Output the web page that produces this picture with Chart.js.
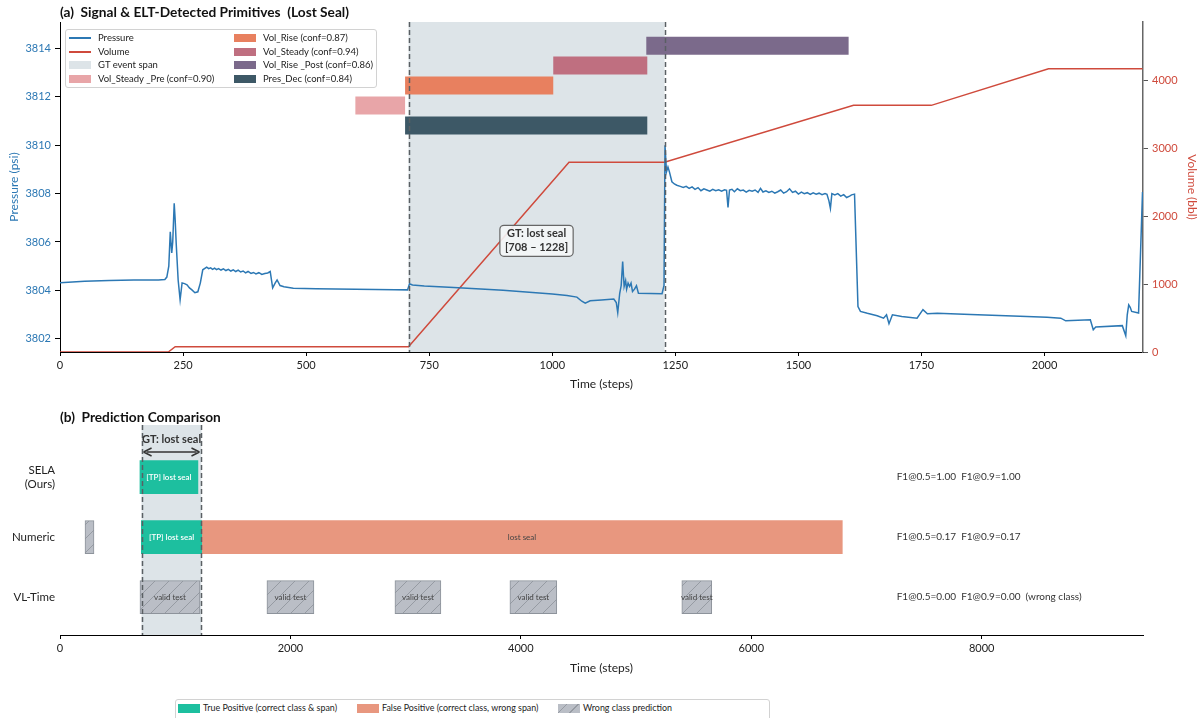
<!DOCTYPE html>
<html>
<head>
<meta charset="utf-8">
<script src="https://cdn.jsdelivr.net/npm/chart.js@4.4.1/dist/chart.umd.min.js"></script>
<style>
  body { margin: 0; background: #fff; font-family: Lato, sans-serif; }
  #wrap { position: relative; width: 1203px; height: 718px; overflow: hidden; }
  #c1 { position: absolute; left: 0; top: 0; }
  #c2 { position: absolute; left: 0; top: 400px; }
  .ttl { position: absolute; left: 60px; font-weight: bold; font-size: 13.7px; color: #111; white-space: pre; }
  .lg { position: absolute; border: 1px solid #d2d2d2; border-radius: 3px; background: rgba(255,255,255,0.85); font-size: 9.5px; color: #222; }
  .it { position: absolute; white-space: pre; line-height: 12px; }
  .ln { position: absolute; width: 22px; height: 2px; }
  .bx { position: absolute; width: 22px; height: 8px; }
  #lg2 { font-size: 8.9px; }
</style>
</head>
<body>
<div id="wrap">
  <canvas id="c1" width="1203" height="400"></canvas>
  <canvas id="c2" width="1203" height="290"></canvas>
  <div class="ttl" style="top:3px">(a)  Signal &amp; ELT-Detected Primitives  (Lost Seal)</div>
  <div class="ttl" style="top:408px">(b)  Prediction Comparison</div>
  <div class="lg" id="lg1" style="left:65px;top:29px;width:310px;height:57px"></div>
  <div class="lg" id="lg2" style="left:175px;top:699px;width:593px;height:26px"></div>
</div>
<script>
Chart.defaults.font.family = 'Lato';
Chart.defaults.color = '#222';

// ---- panel (a) data
const pressureSteps = [
  0, 50, 100, 150, 200, 213, 217, 221, 224, 227,
  229, 232, 234, 236, 240, 244, 248, 253, 258, 263,
  268, 274, 280, 285, 290, 298, 302, 306, 310, 314,
  318, 322, 327, 332, 337, 342, 347, 352, 357, 362,
  367, 372, 377, 382, 388, 393, 398, 404, 410, 416,
  422, 427, 432, 437, 441, 447, 455, 474, 520, 600,
  680, 706, 710, 716, 740, 800, 900, 1000, 1030, 1050,
  1060, 1067, 1077, 1100, 1125, 1130, 1133, 1137, 1140, 1143,
  1146, 1149, 1151, 1154, 1157, 1160, 1163, 1167, 1171, 1175,
  1200, 1223, 1227, 1229, 1232, 1235, 1238, 1243, 1248, 1253,
  1260, 1266, 1272, 1278, 1284, 1290, 1296, 1302, 1308, 1314,
  1320, 1326, 1332, 1338, 1344, 1350, 1354, 1357, 1360, 1365,
  1370, 1376, 1382, 1388, 1394, 1400, 1406, 1412, 1418, 1423,
  1428, 1434, 1440, 1446, 1452, 1458, 1464, 1470, 1476, 1482,
  1488, 1494, 1500, 1506, 1512, 1518, 1524, 1530, 1536, 1542,
  1548, 1554, 1558, 1562, 1565, 1568, 1574, 1580, 1586, 1592,
  1598, 1604, 1608, 1614, 1621, 1626, 1640, 1660, 1673, 1679,
  1684, 1691, 1710, 1741, 1753, 1762, 1782, 1850, 1950, 2005,
  2033, 2043, 2093, 2099, 2104, 2158, 2165, 2168, 2171, 2174,
  2177, 2191, 2199
];
const pressureVals = [
  3804.31, 3804.38, 3804.41, 3804.43, 3804.43, 3804.45, 3804.55, 3805.0, 3806.42, 3805.55,
  3806.0, 3807.6, 3806.9, 3805.96, 3804.43, 3803.61, 3804.31, 3804.28, 3804.23, 3804.1,
  3804.02, 3803.9, 3803.94, 3804.3, 3804.85, 3804.96, 3804.9, 3804.93, 3804.87, 3804.92,
  3804.86, 3804.9, 3804.84, 3804.89, 3804.82, 3804.87, 3804.8, 3804.85, 3804.78, 3804.84,
  3804.76, 3804.8, 3804.72, 3804.78, 3804.7, 3804.74, 3804.68, 3804.73, 3804.66, 3804.7,
  3804.72, 3804.78, 3804.1, 3804.3, 3804.43, 3804.2, 3804.15, 3804.09, 3804.07, 3804.05,
  3804.03, 3804.02, 3804.27, 3804.22, 3804.18, 3804.12, 3804.0, 3803.85, 3803.79, 3803.72,
  3803.55, 3803.47, 3803.57, 3803.6, 3803.64, 3803.5, 3803.08, 3803.88, 3804.2, 3805.19,
  3804.16, 3804.4, 3804.05, 3804.3, 3804.16, 3804.3, 3803.95, 3804.05, 3804.19, 3803.88,
  3803.87, 3803.86, 3804.2, 3810.0, 3808.9, 3809.1, 3808.9, 3808.49, 3808.4, 3808.35,
  3808.3, 3808.26, 3808.3, 3808.22, 3808.28, 3808.18, 3808.25, 3808.12, 3808.2, 3808.15,
  3808.1, 3808.18, 3808.12, 3808.16, 3808.1, 3808.16, 3808.14, 3807.43, 3808.15, 3808.18,
  3808.08, 3808.2, 3808.12, 3808.15, 3808.06, 3808.14, 3808.1, 3808.15, 3808.05, 3808.22,
  3808.07, 3808.12, 3808.05, 3808.1, 3808.02, 3808.08, 3808.15, 3808.02, 3808.08, 3808.2,
  3808.05, 3808.1, 3807.98, 3808.06, 3808.0, 3808.04, 3807.97, 3808.03, 3807.98, 3808.02,
  3807.96, 3808.0, 3807.97, 3807.7, 3807.39, 3808.0, 3807.95, 3808.0, 3807.9, 3807.96,
  3807.84, 3807.9, 3807.95, 3807.98, 3803.33, 3803.13, 3803.05, 3802.95, 3802.85, 3802.99,
  3802.62, 3802.99, 3802.92, 3802.85, 3803.2, 3803.03, 3803.05, 3803.0, 3802.93, 3802.89,
  3802.85, 3802.74, 3802.78, 3802.37, 3802.48, 3802.54, 3802.12, 3802.99, 3803.4, 3803.3,
  3803.13, 3803.06, 3808.07
];
const volumeSteps = [0, 220, 234, 708, 1034, 1228, 1612, 1770, 2008, 2199];
const volumeVals = [0, 0, 78, 78, 2800, 2800, 3640, 3640, 4180, 4180];

const primNames = ['Vol_Steady _Pre (conf=0.90)', 'Vol_Rise (conf=0.87)', 'Vol_Steady (conf=0.94)', 'Vol_Rise _Post (conf=0.86)', 'Pres_Dec (conf=0.84)'];
const primStart = [600, 701, 1002, 1191, 701];
const primEnd = [701, 1002, 1193, 1602, 1193];
const primLevel = [3811.65, 3812.47, 3813.30, 3814.12, 3810.82];
const primColors = ['#e8a5a8', '#e8805f', '#bf6f80', '#7b6a8b', '#3d5866'];

const gtSpan = [708, 1228];
const gtText = ['GT: lost seal', '[708 \u2013 1228]'];

const stepTicksA = [0, 250, 500, 750, 1000, 1250, 1500, 1750, 2000];
const pressureTicks = [3802, 3804, 3806, 3808, 3810, 3812, 3814];
const volumeTicks = [0, 1000, 2000, 3000, 4000];

// ---- panel (b) data
const rowNames = [['VL-Time'], ['Numeric'], ['SELA', '(Ours)']];
const tpSpans = [[694, 1197], [706, 1230]];
const tpRows = [2, 1];
const tpText = ['[TP] lost seal', '[TP] lost seal'];
const fpSpans = [[1230, 6790]];
const fpRows = [1];
const fpText = ['lost seal'];
const wrongSpans = [[217, 295], [694, 1215], [1796, 2204], [2907, 3306], [3905, 4312], [5397, 5657]];
const wrongRows = [1, 0, 0, 0, 0, 0];
const wrongText = ['', 'valid test', 'valid test', 'valid test', 'valid test', 'valid test'];
const f1Text = ['F1@0.5=0.00  F1@0.9=0.00  (wrong class)', 'F1@0.5=0.17  F1@0.9=0.17', 'F1@0.5=1.00  F1@0.9=1.00'];
const stepTicksB = [0, 2000, 4000, 6000, 8000];

const PCOL = '#2c78b4', VCOL = '#cf4a3c', GTFILL = '#dde4e8';
const TPCOL = '#1dbf9f', FPCOL = '#e8977f';

const hatch = (() => {
  const c = document.createElement('canvas'); c.width = 14; c.height = 14;
  const g = c.getContext('2d');
  g.fillStyle = '#babec6'; g.fillRect(0, 0, 14, 14);
  g.strokeStyle = '#969ba3'; g.lineWidth = 1;
  g.beginPath();
  g.moveTo(0, 14); g.lineTo(14, 0);
  g.moveTo(-7, 7); g.lineTo(7, -7);
  g.moveTo(7, 21); g.lineTo(21, 7);
  g.stroke();
  return g.createPattern(c, 'repeat');
})();

function fixedTicks(vals) { return s => { s.ticks = vals.map(v => ({ value: v })); }; }

function gtBand(chart) {
  const { ctx, chartArea: a, scales: { x } } = chart;
  ctx.save();
  ctx.fillStyle = GTFILL;
  const x0 = x.getPixelForValue(gtSpan[0]), x1 = x.getPixelForValue(gtSpan[1]);
  ctx.fillRect(x0, a.top, x1 - x0, a.bottom - a.top);
  ctx.restore();
}
function gtLines(chart) {
  const { ctx, chartArea: a, scales: { x } } = chart;
  ctx.save();
  ctx.strokeStyle = '#5a5f63'; ctx.lineWidth = 1.5; ctx.setLineDash([5, 3]);
  gtSpan.forEach(v => {
    const px = Math.round(x.getPixelForValue(v)) + 0.5;
    ctx.beginPath(); ctx.moveTo(px, a.top); ctx.lineTo(px, a.bottom); ctx.stroke();
  });
  ctx.restore();
}

// ---------------- chart (a)
const dsA = [];
primNames.forEach((n, i) => {
  dsA.push({
    label: n, yAxisID: 'y', order: 3,
    data: [{ x: primStart[i], y: primLevel[i] }, { x: primEnd[i], y: primLevel[i] }],
    borderColor: primColors[i], borderWidth: 18, borderCapStyle: 'butt', pointRadius: 0
  });
});
dsA.push({
  label: 'Volume', yAxisID: 'y1', order: 2,
  data: volumeSteps.map((s, i) => ({ x: s, y: volumeVals[i] })),
  borderColor: VCOL, borderWidth: 1.5, pointRadius: 0
});
dsA.push({
  label: 'Pressure', yAxisID: 'y', order: 1,
  data: pressureSteps.map((s, i) => ({ x: s, y: pressureVals[i] })),
  borderColor: PCOL, borderWidth: 1.5, pointRadius: 0
});

new Chart(document.getElementById('c1'), {
  type: 'line',
  data: { datasets: dsA },
  options: {
    responsive: false, animation: false, devicePixelRatio: 1,
    layout: { padding: { top: 22, left: 0, right: 0, bottom: 0 } },
    plugins: { legend: { display: false }, tooltip: { enabled: false } },
    scales: {
      x: {
        type: 'linear', min: 0, max: 2200,
        afterBuildTicks: fixedTicks(stepTicksA),
        afterFit: s => { s.height = 48; },
        grid: { drawOnChartArea: false, tickLength: 4, tickColor: '#000' },
        border: { color: '#000', width: 1 },
        ticks: { font: { size: 11 }, color: '#222', callback: v => String(v) },
        title: { display: true, text: 'Time (steps)', font: { size: 12 }, color: '#222', padding: 9 }
      },
      y: {
        position: 'left', min: 3801.45, max: 3815.1,
        afterBuildTicks: fixedTicks(pressureTicks),
        afterFit: s => { s.width = 60; },
        grid: { drawOnChartArea: false, tickLength: 5, tickColor: '#000' },
        border: { color: '#000', width: 1 },
        ticks: { font: { size: 11 }, color: PCOL, padding: 4, callback: v => String(v) },
        title: { display: true, text: 'Pressure (psi)', font: { size: 12 }, color: PCOL, padding: 7 }
      },
      y1: {
        position: 'right', min: 0, max: 4870,
        afterBuildTicks: fixedTicks(volumeTicks),
        afterFit: s => { s.width = 60; },
        grid: { drawOnChartArea: false, tickLength: 5, tickColor: '#555' },
        border: { color: '#666', width: 1.5 },
        ticks: { font: { size: 11 }, color: VCOL, padding: 4, callback: v => String(v) },
        title: { display: true, text: 'Volume (bbl)', font: { size: 12 }, color: VCOL, padding: 4 }
      }
    }
  },
  plugins: [{
    id: 'gtA',
    beforeDatasetsDraw: gtBand,
    afterDatasetsDraw(chart) {
      gtLines(chart);
      const { ctx, scales: { x, y } } = chart;
      const cx = x.getPixelForValue((gtSpan[0] + gtSpan[1]) / 2);
      const cy = y.getPixelForValue(3806.05);
      ctx.save();
      ctx.font = 'bold 11px Lato';
      const w = Math.max(...gtText.map(t => ctx.measureText(t).width)) + 10;
      const h = 31;
      ctx.beginPath();
      ctx.roundRect(cx - w / 2, cy - h / 2, w, h, 4);
      ctx.fillStyle = 'rgba(244,246,247,0.9)'; ctx.fill();
      ctx.strokeStyle = '#666'; ctx.lineWidth = 1.2; ctx.stroke();
      ctx.fillStyle = '#333'; ctx.textAlign = 'center'; ctx.textBaseline = 'middle';
      ctx.fillText(gtText[0], cx, cy - 7);
      ctx.fillText(gtText[1], cx, cy + 7);
      ctx.restore();
    }
  }]
});

// ---------------- chart (b)
const toBar = (spans, rows) => spans.map((s, i) => ({ x: s, y: rows[i] }));
new Chart(document.getElementById('c2'), {
  type: 'bar',
  data: {
    datasets: [
      { label: 'True Positive (correct class & span)', data: toBar(tpSpans, tpRows), backgroundColor: TPCOL, borderWidth: 0, txt: tpText, txtColor: '#fff', txtFont: '600 8px Lato' },
      { label: 'False Positive (correct class, wrong span)', data: toBar(fpSpans, fpRows), backgroundColor: FPCOL, borderWidth: 0, txt: fpText, txtColor: '#444', txtFont: '8px Lato' },
      { label: 'Wrong class prediction', data: toBar(wrongSpans, wrongRows), backgroundColor: hatch, borderColor: '#8d939b', borderWidth: 1, borderSkipped: false, txt: wrongText, txtColor: '#444', txtFont: '8px Lato' }
    ]
  },
  options: {
    indexAxis: 'y', responsive: false, animation: false, devicePixelRatio: 1,
    datasets: { bar: { grouped: false, barThickness: 33 } },
    layout: { padding: { top: 25, left: 0, right: 60, bottom: 0 } },
    plugins: { legend: { display: false }, tooltip: { enabled: false } },
    scales: {
      x: {
        type: 'linear', min: 0, max: 9400,
        afterBuildTicks: fixedTicks(stepTicksB),
        afterFit: s => { s.height = 55; },
        grid: { drawOnChartArea: false, tickLength: 4, tickColor: '#000' },
        border: { color: '#000', width: 1 },
        ticks: { font: { size: 11 }, color: '#222', callback: v => String(v) },
        title: { display: true, text: 'Time (steps)', font: { size: 12 }, color: '#222', padding: 15 }
      },
      y: {
        type: 'linear', min: -0.63, max: 2.87, offset: false,
        afterBuildTicks: fixedTicks([0, 1, 2]),
        afterFit: s => { s.width = 60; },
        grid: { display: false, drawTicks: false, offset: false },
        border: { display: false },
        ticks: { font: { size: 11.5 }, color: '#222', padding: 5, callback: v => rowNames[v] }
      }
    }
  },
  plugins: [{
    id: 'gtB',
    beforeDatasetsDraw: gtBand,
    afterDatasetsDraw(chart) {
      gtLines(chart);
      const { ctx, scales: { x, y } } = chart;
      ctx.save();
      ctx.textAlign = 'center'; ctx.textBaseline = 'middle';
      chart.data.datasets.forEach((ds, di) => {
        chart.getDatasetMeta(di).data.forEach((el, i) => {
          const t = ds.txt[i];
          if (!t) return;
          const p = el.getProps(['x', 'y', 'base'], true);
          ctx.font = ds.txtFont; ctx.fillStyle = ds.txtColor;
          ctx.fillText(t, (p.x + p.base) / 2, p.y);
        });
      });
      // GT arrow
      const x0 = x.getPixelForValue(gtSpan[0]) + 2, x1 = x.getPixelForValue(gtSpan[1]) - 2;
      const ay = y.getPixelForValue(2.42);
      ctx.strokeStyle = '#333'; ctx.fillStyle = '#333'; ctx.lineWidth = 1.4;
      ctx.beginPath(); ctx.moveTo(x0 + 3, ay); ctx.lineTo(x1 - 3, ay); ctx.stroke();
      ctx.beginPath(); ctx.moveTo(x0, ay); ctx.lineTo(x0 + 8, ay - 4); ctx.moveTo(x0, ay); ctx.lineTo(x0 + 8, ay + 4); ctx.stroke();
      ctx.beginPath(); ctx.moveTo(x1, ay); ctx.lineTo(x1 - 8, ay - 4); ctx.moveTo(x1, ay); ctx.lineTo(x1 - 8, ay + 4); ctx.stroke();
      ctx.font = 'bold 11px Lato';
      ctx.fillText('GT: lost seal', (x0 + x1) / 2, y.getPixelForValue(2.63));
      // F1 notes
      ctx.font = '10px Lato'; ctx.fillStyle = '#333'; ctx.textAlign = 'left';
      f1Text.forEach((t, r) => ctx.fillText(t, x.getPixelForValue(7262), y.getPixelForValue(r)));
      ctx.restore();
    }
  }]
});

// ---------------- legends (html)
const lg1 = document.getElementById('lg1');
const col1 = [['Pressure', 'line', PCOL], ['Volume', 'line', VCOL], ['GT event span', 'box', GTFILL], [primNames[0], 'box', primColors[0]]];
const col2 = [[primNames[1], 'box', primColors[1]], [primNames[2], 'box', primColors[2]], [primNames[3], 'box', primColors[3]], [primNames[4], 'box', primColors[4]]];
function addItem(el, item, left, cy) {
  const h = document.createElement('div');
  h.className = item[1] === 'line' ? 'ln' : 'bx';
  h.style.left = left + 'px';
  h.style.top = (cy - (item[1] === 'line' ? 1 : 4)) + 'px';
  h.style.background = item[2];
  el.appendChild(h);
  const t = document.createElement('div');
  t.className = 'it'; t.textContent = item[0];
  t.style.left = (left + 29) + 'px'; t.style.top = (cy - 6) + 'px';
  el.appendChild(t);
}
col1.forEach((it, i) => addItem(lg1, it, 3, 8 + i * 13.5));
col2.forEach((it, i) => addItem(lg1, it, 168, 8 + i * 13.5));

const lg2 = document.getElementById('lg2');
const items2 = [['True Positive (correct class & span)', TPCOL, 0], ['False Positive (correct class, wrong span)', FPCOL, 179], ['Wrong class prediction', 'repeating-linear-gradient(-45deg, #babec6 0 7px, #969ba3 7px 8px)', 380]];
items2.forEach(it => {
  const b = document.createElement('div');
  b.className = 'bx';
  b.style.left = (it[2] + 2) + 'px'; b.style.top = '4px'; b.style.height = '9px';
  b.style.background = it[1];
  lg2.appendChild(b);
  const t = document.createElement('div');
  t.className = 'it'; t.textContent = it[0];
  t.style.left = (it[2] + 27) + 'px'; t.style.top = '2px';
  lg2.appendChild(t);
});
</script>
</body>
</html>
